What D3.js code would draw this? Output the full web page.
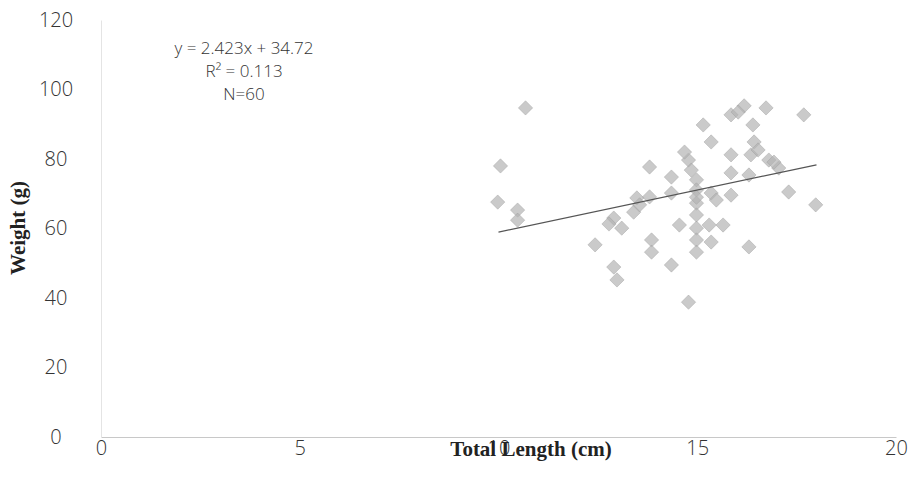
<!DOCTYPE html>
<html>
<head>
<meta charset="utf-8">
<script src="https://cdn.jsdelivr.net/npm/d3@7"></script>
<style>
  body { margin: 0; background: #fff; }
  svg { display: block; }
  .tick text { font-family: "Open Sans", sans-serif; font-weight: 300; fill: #333; }
</style>
</head>
<body>
<div id="chart"></div>
<script>
// Total length (cm) and weight (g)
const lengths = [
  9.98, 10.05, 10.48, 10.48, 10.68, 12.43, 12.9, 13.1, 12.9, 12.98,
  13.4, 13.48, 13.8, 13.8, 13.85, 13.85, 14.35, 14.35, 14.35, 14.55,
  14.78, 14.85, 14.78, 14.98, 14.98, 14.98, 14.98, 14.98, 14.98, 15.15,
  15.35, 15.35, 15.3, 15.65, 15.35, 15.85, 16.18, 15.85, 15.85, 15.85,
  16.3, 16.4, 16.43, 16.35, 16.73, 16.8, 17.05, 16.3, 17.3, 17.68,
  17.98, 14.98, 14.68, 16.03, 16.53, 13.55, 15.48, 12.78, 14.98, 16.93
];
const weights = [
  67.6, 78.0, 65.3, 62.4, 94.7, 55.3, 63.0, 60.1, 48.9, 45.2,
  64.7, 68.8, 69.1, 77.7, 56.7, 53.2, 74.8, 70.2, 49.5, 61.0,
  79.7, 76.8, 38.8, 74.0, 71.1, 67.3, 63.9, 60.1, 56.7, 89.8,
  84.9, 70.2, 61.0, 61.0, 56.1, 92.7, 95.3, 81.2, 76.0, 69.6,
  75.4, 89.8, 84.9, 81.2, 94.7, 79.7, 77.4, 54.7, 70.5, 92.7,
  66.8, 53.2, 82.0, 93.5, 82.6, 66.8, 68.2, 61.3, 69.0, 79.1
];
const xTicks = [0, 5, 10, 15, 20];
const yTicks = [0, 20, 40, 60, 80, 100, 120];
const slope = 2.423, intercept = 34.72;
const trendRange = [10, 18];
const notes = ["y = 2.423x + 34.72", "R² = 0.113", "N=60"];

const width = 911, height = 495;
const margin = { top: 20, right: 15, bottom: 58, left: 101 };

const svg = d3.select("#chart").append("svg")
  .attr("width", width)
  .attr("height", height);

const x = d3.scaleLinear().domain([0, 20]).range([margin.left, width - margin.right]);
const y = d3.scaleLinear().domain([0, 120]).range([height - margin.bottom, margin.top]);

// axes
const xAxis = svg.append("g")
  .attr("transform", `translate(0,${y(0)})`)
  .call(d3.axisBottom(x).tickValues(xTicks).tickSize(0).tickPadding(4));
xAxis.select(".domain").attr("stroke", "#c8c8c8");
xAxis.selectAll("text").attr("font-size", 20);

const yAxis = svg.append("g")
  .attr("transform", `translate(${x(0)},0)`)
  .call(d3.axisLeft(y).tickValues(yTicks).tickSize(0).tickPadding(0));
yAxis.select(".domain").attr("stroke", "#e4e4e4");
yAxis.selectAll("text")
  .attr("font-size", 20)
  .attr("text-anchor", "middle")
  .attr("x", 56 - x(0));

// points
const diamond = d3.symbol().type(d3.symbolDiamond2).size(130);
svg.append("g").selectAll("path")
  .data(lengths.map((l, i) => [l, weights[i]]))
  .join("path")
  .attr("d", diamond)
  .attr("transform", d => `translate(${x(d[0])},${y(d[1])})`)
  .attr("fill", "#b4b4b4")
  .attr("fill-opacity", 0.7)
  .attr("stroke", "#999")
  .attr("stroke-opacity", 0.5)
  .attr("stroke-width", 0.8);

// trendline
const line = d3.line().x(d => x(d)).y(d => y(slope * d + intercept));
svg.append("path")
  .attr("d", line(trendRange))
  .attr("fill", "none")
  .attr("stroke", "#555")
  .attr("stroke-width", 1.2);

// regression note
svg.append("g").selectAll("text")
  .data(notes)
  .join("text")
  .attr("x", 244)
  .attr("y", (d, i) => 48 + i * 23)
  .attr("dy", "0.35em")
  .attr("text-anchor", "middle")
  .attr("font-family", "Open Sans, sans-serif")
  .attr("font-weight", 300)
  .attr("font-size", 17)
  .attr("fill", "#333")
  .text(d => d);

// axis titles (overlaps the "10" tick as in the original)
svg.append("text")
  .attr("x", 531)
  .attr("y", 449)
  .attr("dy", "0.35em")
  .attr("text-anchor", "middle")
  .attr("font-family", "Liberation Serif, serif")
  .attr("font-weight", "bold")
  .attr("font-size", 21)
  .attr("fill", "#222")
  .text("Total Length (cm)");

svg.append("text")
  .attr("transform", "translate(18,228) rotate(-90)")
  .attr("dy", "0.35em")
  .attr("text-anchor", "middle")
  .attr("font-family", "Liberation Serif, serif")
  .attr("font-weight", "bold")
  .attr("font-size", 21)
  .attr("fill", "#222")
  .text("Weight (g)");
</script>
</body>
</html>
